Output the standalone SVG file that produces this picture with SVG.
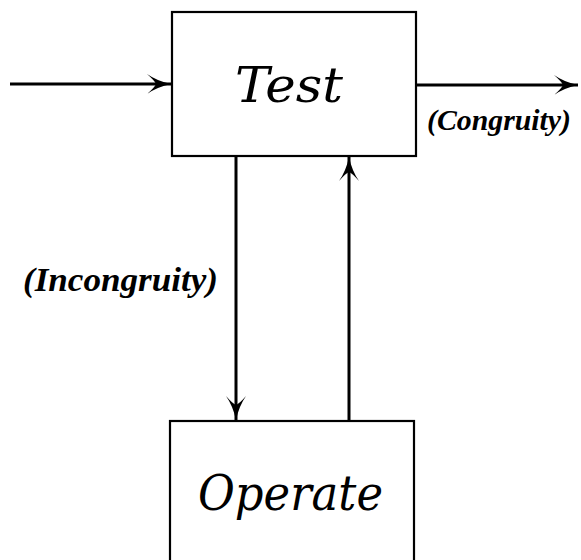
<svg xmlns="http://www.w3.org/2000/svg" width="581" height="560" viewBox="0 0 581 560">
<defs>
<style>
.box{fill:#fff;stroke:#000;stroke-width:2.2}
.ln{stroke:#000;stroke-width:3;fill:none}
.big{font-family:"DejaVu Serif","Liberation Serif",serif;font-style:italic;font-size:48px;fill:#000}
.lab{font-family:"Liberation Serif","DejaVu Serif",serif;font-style:italic;font-weight:bold;fill:#000}
</style>
<marker id="ah" viewBox="-25 -11 27 22" refX="0" refY="0" markerWidth="27" markerHeight="22" markerUnits="userSpaceOnUse" orient="auto">
<path d="M0,0 Q-14,-3 -24,-10 Q-16,-3 -15,0 Q-16,3 -24,10 Q-14,3 0,0 Z" fill="#000"/>
</marker>
</defs>
<rect width="581" height="560" fill="#fff"/>
<g id="test">
<rect class="box" x="172" y="12" width="244" height="144"/>
<text class="big" x="235" y="102" textLength="108" lengthAdjust="spacingAndGlyphs">Test</text>
</g>
<g id="operate">
<rect class="box" x="170" y="421" width="244" height="150"/>
<text class="big" x="198" y="510" textLength="185" lengthAdjust="spacingAndGlyphs">Operate</text>
</g>
<g id="connectors">
<line class="ln" x1="10" y1="84" x2="171" y2="84" marker-end="url(#ah)"/>
<line class="ln" x1="417" y1="85" x2="578" y2="85" marker-end="url(#ah)"/>
<line class="ln" x1="236" y1="157" x2="236" y2="420" marker-end="url(#ah)"/>
<line class="ln" x1="349" y1="420" x2="349" y2="157" marker-end="url(#ah)"/>
</g>
<g id="labels">
<text class="lab" x="427" y="130" font-size="30" textLength="144" lengthAdjust="spacingAndGlyphs">(Congruity)</text>
<text class="lab" x="23" y="291" font-size="34" textLength="195" lengthAdjust="spacingAndGlyphs">(Incongruity)</text>
</g>
</svg>
